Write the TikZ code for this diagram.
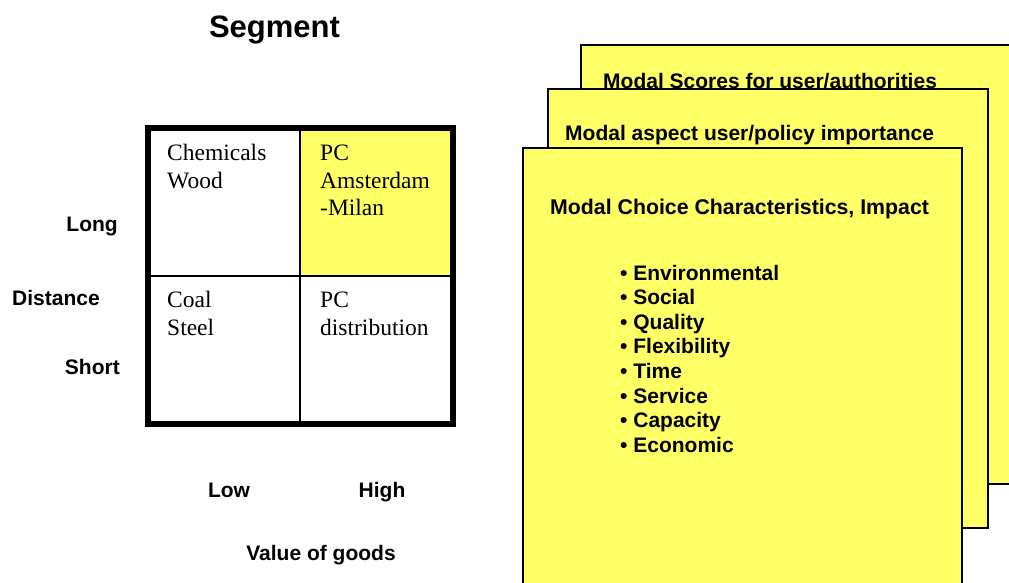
\documentclass[tikz,border=0pt]{standalone}
\usepackage{fontspec}
\setmainfont{Liberation Serif}
\newfontfamily\arialf{Liberation Sans}
\definecolor{paleyellow}{HTML}{FFFF66}
\begin{document}
\begin{tikzpicture}[x=1pt,y=-1pt,
  lab/.style={font=\arialf\bfseries\fontsize{21}{24}\selectfont, inner sep=0pt},
  cell/.style={font=\fontsize{23.5}{27.5}\selectfont, inner sep=0pt, align=left},
  card/.style={draw=black, line width=1.6pt, fill=paleyellow, inner sep=0pt},
  bl/.style={font=\arialf\bfseries\fontsize{21}{24}\selectfont, inner sep=0pt, anchor=base west}
]
\clip (0,0) rectangle (1009,583);
\fill[white] (0,0) rectangle (1009,583);

% Title
\node[lab, font=\arialf\bfseries\fontsize{31}{36}\selectfont, anchor=base] (title) at (274.5,38) {Segment};

% Grid
\fill[paleyellow] (300,128) rectangle (453,276);
\draw[line width=2pt] (300,128) -- (300,424);
\draw[line width=2pt] (148,276) -- (453,276);
\draw[line width=5.5pt] (148,128) rectangle (453,424);
\node[cell, anchor=base west] (c1) at (167,188) {Chemicals\\Wood};
\node[cell, anchor=base west] (c2) at (320,215.5) {PC\\Amsterdam\\-Milan};
\node[cell, anchor=base west] (c3) at (167,335) {Coal\\Steel};
\node[cell, anchor=base west] (c4) at (320,335) {PC\\distribution};

% Axis labels
\node[lab, anchor=base east] (long) at (118,231) {Long};
\node[lab, anchor=base west] (dist) at (12,305) {Distance};
\node[lab, anchor=base east] (short) at (120,374) {Short};
\node[lab, anchor=base] (low) at (229,497) {Low};
\node[lab, anchor=base] (high) at (382,497) {High};
\node[lab, anchor=base] (value) at (321,560) {Value of goods};

% Stacked cards
\node[card, anchor=north west, minimum width=450pt, minimum height=439pt] (back) at (580,44) {};
\node[lab, anchor=base west] (t1) at (603,89) {Modal Scores for user/authorities};
\node[card, anchor=north west, minimum width=440pt, minimum height=439pt] (mid) at (547,88) {};
\node[lab, anchor=base west] (t2) at (565,141) {Modal aspect user/policy importance};
\node[card, anchor=north west, minimum width=439pt, minimum height=450pt] (front) at (522,147) {};
\node[lab, anchor=base west, font=\arialf\bfseries\fontsize{21.3}{24}\selectfont] (t3) at (550,214) {Modal Choice Characteristics, Impact};

\node[bl] (b1) at (620,280) {\textbullet\ Environmental};
\node[bl] (b2) at (620,304.6) {\textbullet\ Social};
\node[bl] (b3) at (620,329.2) {\textbullet\ Quality};
\node[bl] (b4) at (620,353.8) {\textbullet\ Flexibility};
\node[bl] (b5) at (620,378.4) {\textbullet\ Time};
\node[bl] (b6) at (620,403) {\textbullet\ Service};
\node[bl] (b7) at (620,427.6) {\textbullet\ Capacity};
\node[bl] (b8) at (620,452.2) {\textbullet\ Economic};
\end{tikzpicture}
\end{document}
